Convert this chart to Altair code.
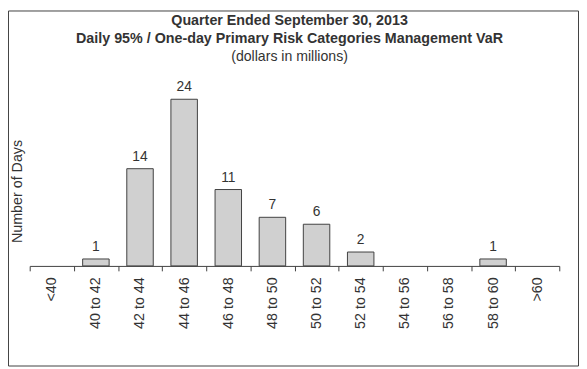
import altair as alt
import pandas as pd

categories = ["<40", "40 to 42", "42 to 44", "44 to 46", "46 to 48", "48 to 50",
              "50 to 52", "52 to 54", "54 to 56", "56 to 58", "58 to 60", ">60"]
days = [0, 1, 14, 24, 11, 7, 6, 2, 0, 0, 1, 0]

title_lines = ["Quarter Ended September 30, 2013",
               "Daily 95% / One-day Primary Risk Categories Management VaR"]
subtitle = "(dollars in millions)"
y_title = "Number of Days"

df = pd.DataFrame({"bin": categories, "days": days})

FONT = "Liberation Sans"
TXT = "#333333"
W, H = 537, 169

x_enc = alt.X("bin:N", sort=categories,
              scale=alt.Scale(domain=categories, paddingInner=0, paddingOuter=0),
              axis=alt.Axis(title=None, labelAngle=270, labelFontSize=14.5, labelColor=TXT,
                            labelFont=FONT, labelPadding=6, tickBand="extent",
                            tickSize=5, tickColor="#404040", domainColor="#404040",
                            domainWidth=1, tickWidth=1, grid=False))
y_enc = alt.Y("days:Q", scale=alt.Scale(domain=[0, 24], nice=False),
              axis=alt.Axis(title=y_title, domain=False, ticks=False, labels=False, grid=False,
                            titleFont=FONT, titleFontSize=14.5, titleFontWeight="normal",
                            titleColor=TXT, titleAngle=270, titleX=-12, titleY=93,
                            titleAlign="center", titleBaseline="middle"))

base = alt.Chart(df)
bars = base.mark_bar(fill="#d0d0d0", stroke="#404040", strokeWidth=1,
                     width={"band": 0.6}).encode(
    x=x_enc, y=y_enc
).transform_filter("datum.days > 0")
labels = base.mark_text(font=FONT, fontSize=14, color=TXT, baseline="alphabetic", dy=-8).encode(
    x=alt.X("bin:N", sort=categories), y=alt.Y("days:Q"), text="days:Q"
).transform_filter("datum.days > 0")

border = alt.Chart(pd.DataFrame({"a": [0]})).mark_rect(
    fill=None, stroke="#404040", strokeWidth=1
).encode(x=alt.value(-21.5), x2=alt.value(W + 19.5), y=alt.value(-89.5), y2=alt.value(H + 101.5))

chart = alt.layer(border, bars, labels).properties(
    width=W, height=H,
    title=alt.TitleParams(text=title_lines, subtitle=subtitle, anchor="middle", dx=-5,
                          font=FONT, fontSize=14.5, fontWeight="bold", color=TXT, lineHeight=18,
                          subtitleFont=FONT, subtitleFontSize=14.3, subtitleColor=TXT,
                          subtitleLineHeight=18, subtitlePadding=4, offset=-56),
    autosize=alt.AutoSizeParams(type="none"),
    padding={"left": 22, "top": 90, "right": 20, "bottom": 102},
).configure_view(stroke=None)

chart.save("out.html", embed_options={"renderer": "svg", "actions": False})
